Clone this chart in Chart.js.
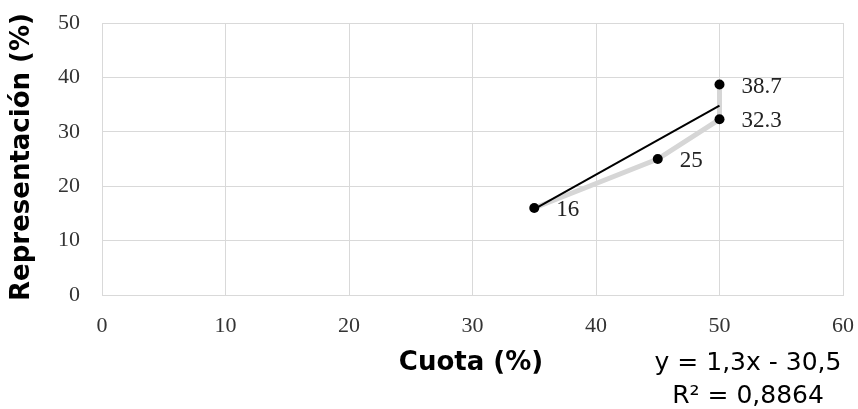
<!DOCTYPE html>
<html>
<head>
<meta charset="utf-8">
<script src="https://cdn.jsdelivr.net/npm/chart.js@4"></script>
<style>
  html, body { margin: 0; padding: 0; background: #fff; }
  #wrap { width: 858px; height: 409px; }
</style>
</head>
<body>
<div id="wrap"><canvas id="chart"></canvas></div>
<script>
// Cuota vs Representación, with linear trend
const cuota = [35, 45, 50, 50];
const representacion = [16, 25, 32.3, 38.7];
const pointLabels = ['16', '25', '32.3', '38.7'];

// trend line endpoints as drawn in the picture
const trendX = [35, 50];
const trendY = [15.8, 34.8];

const xTicks = [0, 10, 20, 30, 40, 50, 60];
const yTicks = [0, 10, 20, 30, 40, 50];
const equationLines = ['y = 1,3x - 30,5', 'R² = 0,8864'];

const seriesPoints = cuota.map((x, i) => ({ x: x, y: representacion[i] }));
const trendPoints = trendX.map((x, i) => ({ x: x, y: trendY[i] }));

// labels next to points, titles and the equation
const annotationsPlugin = {
    id: 'annotations',
    afterDatasetsDraw: function(chart) {
        const ctx = chart.ctx;
        const xs = chart.scales.x;
        const ys = chart.scales.y;
        ctx.save();
        ctx.fillStyle = '#222';
        ctx.font = '23px "Liberation Serif"';
        ctx.textAlign = 'left';
        ctx.textBaseline = 'middle';
        seriesPoints.forEach((p, i) => {
            ctx.fillText(pointLabels[i], xs.getPixelForValue(p.x) + 22, ys.getPixelForValue(p.y) + 2);
        });
        ctx.restore();
    },
    afterDraw: function(chart) {
        const ctx = chart.ctx;
        ctx.save();
        ctx.fillStyle = '#000';
        ctx.font = 'bold 26px "DejaVu Sans"';
        ctx.textAlign = 'center';
        ctx.textBaseline = 'middle';
        ctx.fillText('Cuota (%)', 471, 363);

        ctx.save();
        ctx.translate(22, 157);
        ctx.rotate(-Math.PI / 2);
        ctx.fillText('Representación (%)', 0, 0);
        ctx.restore();

        ctx.font = '25px "DejaVu Sans"';
        ctx.fillText(equationLines[0], 748, 363);
        ctx.fillText(equationLines[1], 748, 396);
        ctx.restore();
    }
};

new Chart(document.getElementById('chart'), {
    type: 'scatter',
    data: {
        datasets: [
            {
                label: 'Trend',
                data: trendPoints,
                showLine: true,
                borderColor: '#000',
                borderWidth: 2,
                pointRadius: 0,
                order: 1
            },
            {
                label: 'Representación',
                data: seriesPoints,
                showLine: true,
                borderColor: '#d6d6d6',
                borderWidth: 5,
                backgroundColor: '#000',
                pointBackgroundColor: '#000',
                pointBorderColor: '#000',
                pointBorderWidth: 0,
                pointRadius: 5,
                order: 2
            }
        ]
    },
    options: {
        responsive: true,
        maintainAspectRatio: false,
        animation: false,
        layout: { padding: { top: 23, right: 15, left: 0, bottom: 0 } },
        plugins: {
            legend: { display: false },
            tooltip: { enabled: false }
        },
        scales: {
            x: {
                type: 'linear',
                min: 0,
                max: 60,
                afterBuildTicks: function(axis) { axis.ticks = xTicks.map(v => ({ value: v })); },
                afterFit: function(axis) {
                    axis.height = 114;
                    axis.paddingLeft = 0;
                    axis.paddingRight = 0;
                },
                grid: { color: '#d9d9d9', lineWidth: 1, drawTicks: false },
                border: { color: '#d9d9d9' },
                ticks: {
                    color: '#333',
                    padding: 18,
                    maxRotation: 0,
                    font: { family: '"Liberation Serif"', size: 22 }
                }
            },
            y: {
                type: 'linear',
                min: 0,
                max: 50,
                afterBuildTicks: function(axis) { axis.ticks = yTicks.map(v => ({ value: v })); },
                afterFit: function(axis) {
                    axis.width = 102;
                    axis.paddingTop = 0;
                    axis.paddingBottom = 0;
                },
                grid: { color: '#d9d9d9', lineWidth: 1, drawTicks: false },
                border: { color: '#d9d9d9' },
                ticks: {
                    color: '#333',
                    padding: 22,
                    font: { family: '"Liberation Serif"', size: 22 }
                }
            }
        }
    },
    plugins: [annotationsPlugin]
});
</script>
</body>
</html>
